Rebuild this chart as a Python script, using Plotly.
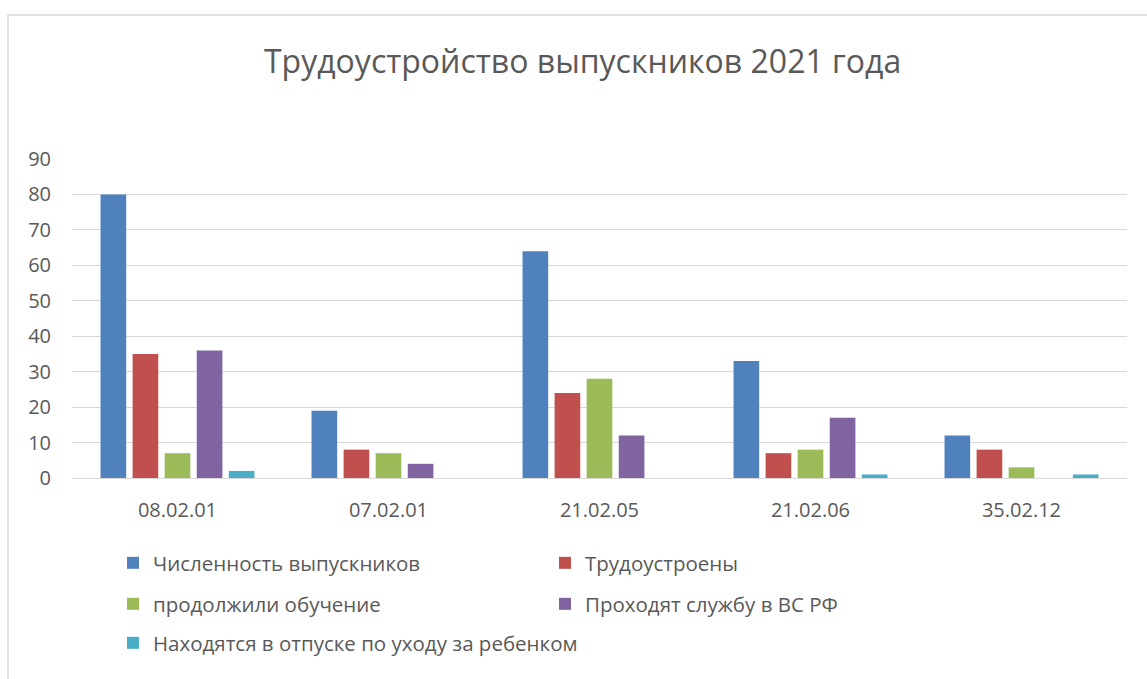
import plotly.graph_objects as go

categories = ["08.02.01", "07.02.01", "21.02.05", "21.02.06", "35.02.12"]
series_names = [
    "Численность выпускников",
    "Трудоустроены",
    "продолжили обучение",
    "Проходят службу в ВС РФ",
    "Находятся в отпуске по уходу за ребенком",
]
graduates = [80, 19, 64, 33, 12]
employed = [35, 8, 24, 7, 8]
continued_study = [7, 7, 28, 8, 3]
military = [36, 4, 12, 17, 0]
parental_leave = [2, 0, 0, 1, 1]
colors = ["#4F81BD", "#C0504D", "#9BBB59", "#8064A2", "#4BACC6"]
legend_ids = ["legend", "legend", "legend2", "legend2", "legend3"]

values = [graduates, employed, continued_study, military, parental_leave]

FONT = "Open Sans"
TXT = "#595959"

fig = go.Figure()
for name, vals, col, lg in zip(series_names, values, colors, legend_ids):
    fig.add_trace(go.Bar(x=categories, y=vals, name=name, marker_color=col,
                         marker_line_width=0, legend=lg))

W, H = 1147, 679
L, R, T, B = 72, 20, 159, 201
pw, ph = W - L - R, H - T - B

def px_x(p):
    return (p - L) / pw

def px_y(p):
    return (H - B - p) / ph

leg_common = dict(orientation="h", xanchor="left", yanchor="middle",
                  font=dict(family=FONT, size=20.5, color=TXT), bgcolor="rgba(0,0,0,0)",
                  itemclick=False)

fig.update_layout(
    width=W, height=H,
    margin=dict(l=L, r=R, t=T, b=B),
    paper_bgcolor="white", plot_bgcolor="white",
    title=dict(text="Трудоустройство выпускников 2021 года", x=0.484, xanchor="center",
               xref="paper", y=1 - 62 / H, yanchor="middle",
               font=dict(family=FONT, size=32, color=TXT)),
    barmode="group", bargap=0.24, bargroupgap=0.2,
    xaxis=dict(tickfont=dict(family=FONT, size=20, color=TXT), showline=True,
               linecolor="#D9D9D9", ticks="", showgrid=False, ticklabelstandoff=14),
    yaxis=dict(range=[0, 90], dtick=10, tickfont=dict(family=FONT, size=20, color=TXT),
               gridcolor="#D9D9D9", showline=False, zeroline=False,
               ticks="outside", ticklen=16, tickcolor="rgba(0,0,0,0)"),
    legend=dict(x=px_x(113), y=px_y(563), entrywidth=387, **leg_common),
    legend2=dict(x=px_x(113), y=px_y(604), entrywidth=387, **leg_common),
    legend3=dict(x=px_x(113), y=px_y(643), **leg_common),
    showlegend=True,
)

fig.add_shape(type="rect", xref="paper", yref="paper",
              x0=px_x(8), x1=px_x(1160), y0=px_y(700), y1=px_y(15),
              line=dict(color="#D9D9D9", width=1.5), layer="below")

fig.write_html("out.html", config={"displayModeBar": False},
               post_script="document.body.style.margin='0';")
